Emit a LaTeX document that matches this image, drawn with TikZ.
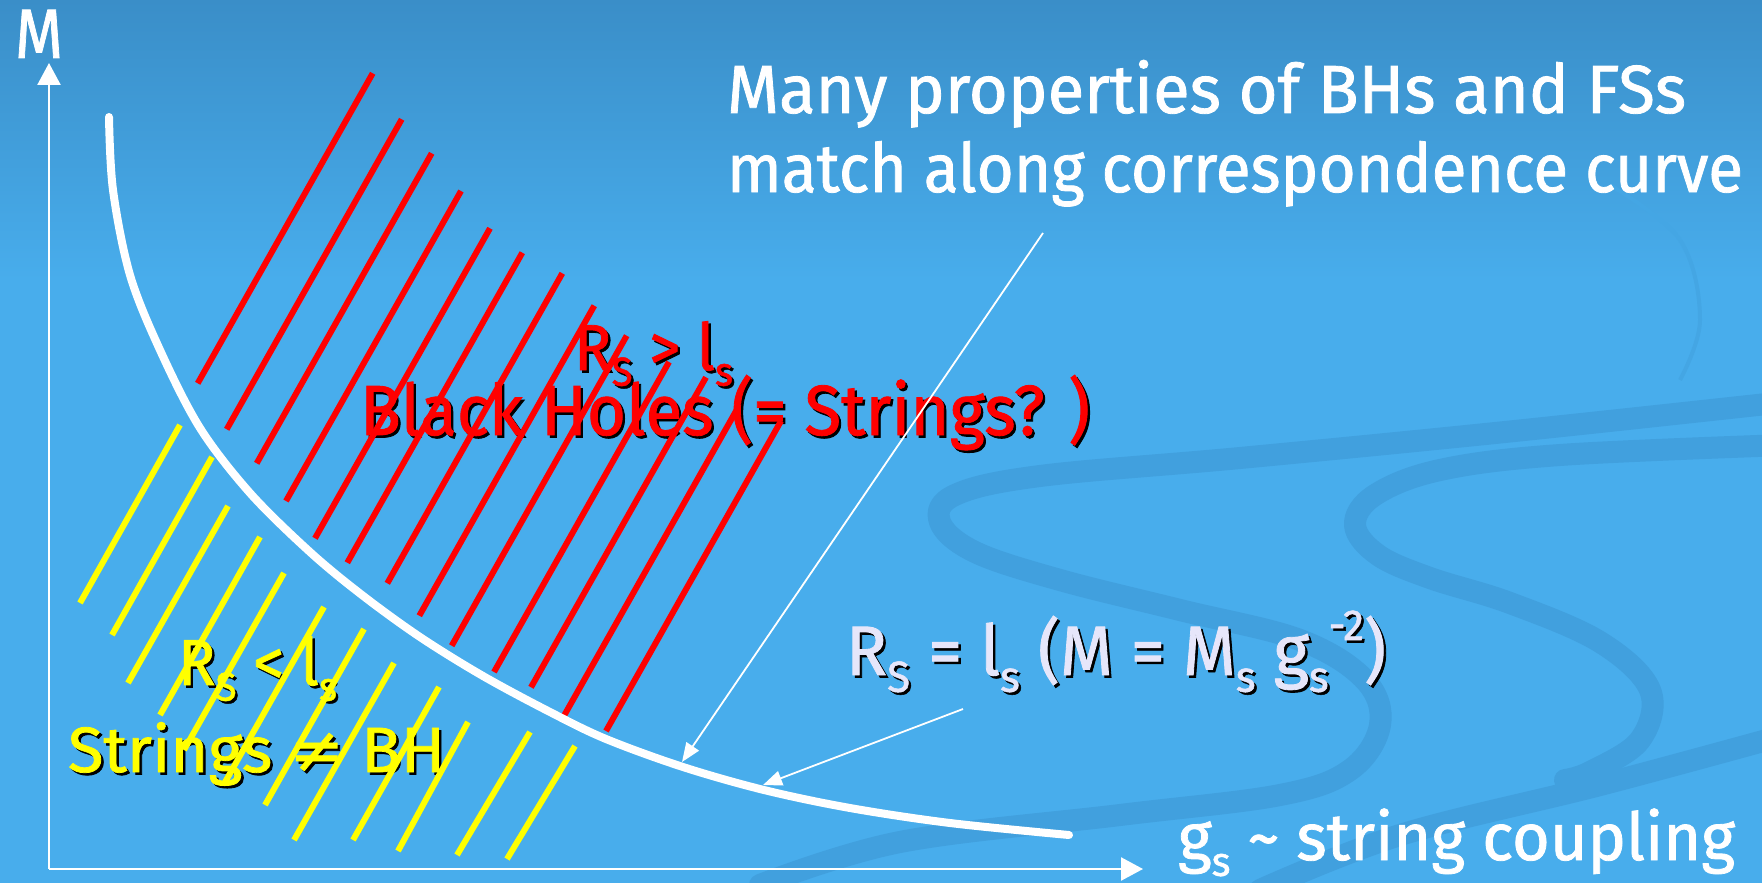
\documentclass[tikz,border=0pt]{standalone}
\usepackage{fontspec}
\setmainfont{Fira Sans}[FakeBold=1.2]
\newfontfamily\symfont{DejaVu Sans}[FakeBold=1.2]
\usetikzlibrary{arrows.meta}
\definecolor{bgtop}{RGB}{58,142,200}
\definecolor{bgbot}{RGB}{72,173,236}
\definecolor{swirl}{RGB}{65,160,222}
\definecolor{swirlfaint}{RGB}{68,166,228}
\definecolor{lav}{RGB}{230,230,250}
\definecolor{hatchred}{RGB}{255,0,0}
\definecolor{hatchyel}{RGB}{255,255,0}
\newcommand\shd[2]{\rlap{\hspace{2.5pt}\raisebox{-2.5pt}{\color{black}#2}}{\color{#1}#2}}
\newcommand\sbs[1]{\raisebox{-0.24em}{\scalebox{0.62}{#1}}}
\newcommand\sps[1]{\raisebox{0.5em}{\scalebox{0.62}{#1}}}
\newcommand\fitw[2]{\resizebox{#1}{\height}{#2}}
\begin{document}
\begin{tikzpicture}[x=1pt,y=-1pt,
  txt/.style={anchor=base west, inner sep=0pt, outer sep=0pt},
  redline/.style={draw=hatchred, line width=6pt, line cap=butt},
  yelline/.style={draw=hatchyel, line width=6pt, line cap=butt},
  corr/.style={draw=white, line width=8pt, line cap=round},
  axis/.style={draw=white, line width=2.5pt, -{Triangle[length=22pt,width=23pt]}},
  pointer/.style={draw=white, line width=1.8pt, -{Triangle[length=19pt,width=15pt]}},
  swirlband/.style={draw=swirl, line width=22pt, line cap=round, line join=round}]
\useasboundingbox (0,0) rectangle (1762,883);
% background
\fill[bgbot] (0,0) rectangle (1762,883);
\shade[top color=bgtop, bottom color=bgbot] (0,0) rectangle (1762,280);
% background swirls
\draw[swirlband] plot[smooth, tension=0.6] coordinates {(1785,402) (1505,432) (1240,458) (1040,476) (955,495) (940,522) (975,552) (1060,580) (1180,610) (1300,640) (1365,680) (1380,725) (1350,770) (1280,795) (1120,815) (900,842) (760,885)};
\draw[swirlband] plot[smooth, tension=0.6] coordinates {(1785,445) (1560,455) (1440,470) (1375,495) (1355,525) (1378,555) (1430,578) (1510,603) (1600,642) (1650,690) (1640,740) (1590,772) (1565,780)};
\draw[swirlband] plot[smooth, tension=0.6] coordinates {(1785,735) (1600,785) (1400,835) (1260,890)};
\draw[swirlfaint, line width=4pt] plot[smooth, tension=0.6] coordinates {(1610,185) (1680,240) (1700,320) (1680,380)};
% texts
\node[txt, font=\fontsize{68}{80}\selectfont, text=white] (head1) at (727,113) {\fitw{959pt}{Many properties of BHs and FSs}};
\node[txt, font=\fontsize{68}{80}\selectfont, text=white] (head2) at (727,192) {\fitw{1016pt}{match along correspondence curve}};
\node[txt, font=\fontsize{70}{84}\selectfont, text=white] (mlab) at (15,58) {\fitw{48pt}{M}};
\node[txt, font=\fontsize{66}{80}\selectfont, text=white] (glab) at (1178,860) {\fitw{557pt}{g\sbs{s} \textasciitilde{} string coupling}};
\node[txt, font=\fontsize{70}{84}\selectfont] (eqlab) at (846,675) {\fitw{540pt}{\shd{lav}{R\sbs{S} = l\sbs{s} (M = M\sbs{s} g\sbs{s}\sps{-2})}}};
\node[txt, font=\fontsize{71}{84}\selectfont] (bhlab) at (360,435) {\fitw{730pt}{\shd{hatchred}{Black Holes (= Strings? )}}};
\node[txt, font=\fontsize{65}{80}\selectfont] (rgt) at (574,370) {\fitw{159pt}{\shd{hatchred}{R\sbs{S} > l\sbs{s}}}};
\node[txt, font=\fontsize{65}{80}\selectfont] (rlt) at (178,685) {\fitw{159pt}{\shd{hatchyel}{R\sbs{S} < l\sbs{s}}}};
\node[txt, font=\fontsize{64}{80}\selectfont] (strlab) at (68,772) {\fitw{377pt}{\shd{hatchyel}{Strings {\symfont ≠} BH}}};
% red hatching (black-hole region)
\foreach \x/\y in {197.7/383.3, 226.7/429.3, 256.7/463.3, 286/501, 315/538.3, 347.3/562.7, 387.3/583.3, 419.3/615.7, 451.7/645.7, 494/672, 531/687.3, 563.3/717, 606/731}
  \draw[redline] (\x,\y) -- ++(175,-310);
% yellow hatching (string region)
\foreach \a/\b/\c/\d in {180/425/80/603, 212/457/112/635, 228/506/128/683, 260/537/160/715, 284/573/184/750, 324/607/224/784, 364/629/265/805, 394/663/294/840, 439/687/353/840, 468/722/398/851, 530/732/457/855, 575/746/507/859}
  \draw[yelline] (\a,\b) -- (\c,\d);
% correspondence curve
\draw[corr] plot[smooth, tension=0.55] coordinates {(109,117) (113,190) (130,275) (160,350) (200,428) (250,493) (310,552) (362,595) (420,637) (483,676) (550,712) (606,739) (683,767) (764,790) (850,808) (950,823) (1069,835)};
% axes
\coordinate (O) at (49,869);
\coordinate (ytip) at (49,63);
\coordinate (xtip) at (1143,869);
\draw[axis] (O) -- (ytip);
\draw[axis] (O) -- (xtip);
% pointers
\coordinate (p1s) at (1043,233);
\coordinate (p1e) at (682,762);
\coordinate (p2s) at (963,709);
\coordinate (p2e) at (763,785);
\draw[pointer] (p1s) -- (p1e);
\draw[pointer] (p2s) -- (p2e);
\end{tikzpicture}
\end{document}
